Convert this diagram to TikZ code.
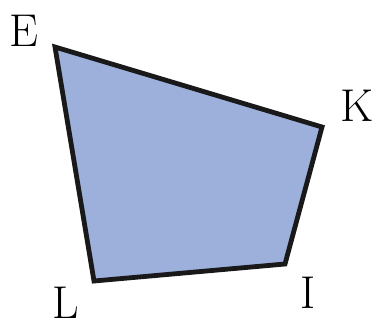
\documentclass[tikz,border=0pt]{standalone}
\usepackage{tikz}
\usetikzlibrary{calc}
\usepackage{xcolor}
\definecolor{quadblue}{RGB}{157,176,220}

\begin{document}
\begin{tikzpicture}[x=1pt, y=-1pt,
        vlabel/.style={inner sep=0pt, font=\fontsize{46}{46}\selectfont},
        quad/.style={draw=black!90, fill=quadblue, line width=4.8pt, line join=miter}
    ]
        \useasboundingbox (0,0) rectangle (380,327);
        % corners
        \coordinate (E) at (55,47);
        \coordinate (K) at (322,127);
        \coordinate (I) at (285,264);
        \coordinate (L) at (94,281);

        \draw[quad] (E) -- (K) -- (I) -- (L) -- cycle;

        % letters
        \node[vlabel] (labE) at (24,31) {E};
        \node[vlabel] (labK) at (357,106) {K};
        \node[vlabel] (labI) at (308,293) {I};
        \node[vlabel] (labL) at (66,303) {L};
    \end{tikzpicture}
\end{document}
